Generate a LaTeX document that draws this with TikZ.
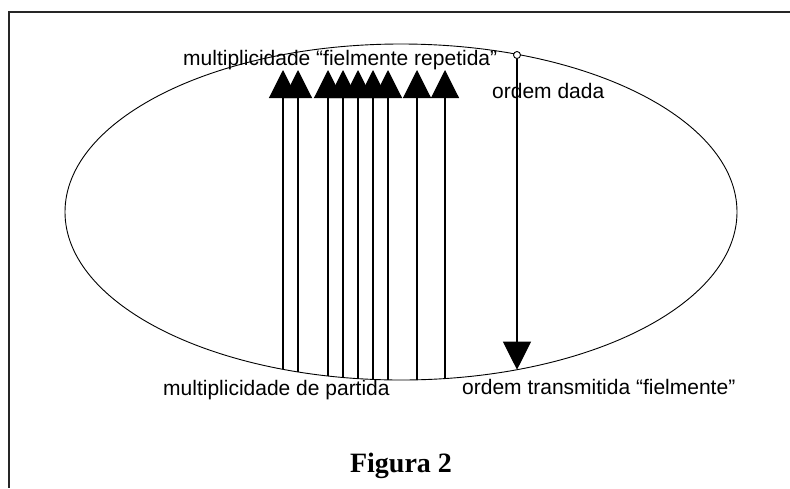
\documentclass[tikz,border=0pt]{standalone}
\usepackage{fontspec}
\setmainfont{Liberation Sans}
\newfontfamily\figfont{Liberation Serif}
\usetikzlibrary{arrows.meta}
\begin{document}
\begin{tikzpicture}[x=1pt,y=-1pt,
  frameline/.style={line width=1.3pt,black!85},
  ell/.style={line width=0.9pt},
  upline/.style={line width=1.1pt,-{Triangle[length=28pt,width=28pt]}},
  downline/.style={line width=1.1pt,-{Triangle[length=28pt,width=28pt]}},
  lab/.style={inner sep=0pt,anchor=base west,font=\fontsize{21}{25}\selectfont},
  caption/.style={inner sep=0pt,anchor=base,font=\figfont\bfseries\fontsize{28}{32}\selectfont}]
\useasboundingbox (0,0) rectangle (790,488);
% partial frame
\coordinate (fTR) at (790,12);
\coordinate (fTL) at (9,12);
\coordinate (fBL) at (9,488);
\draw[frameline] (fTR) -- (fTL) -- (fBL);
% ellipse
\coordinate (ec) at (401,212);
\draw[ell] (ec) ellipse [x radius=336, y radius=168];
% upward arrows (bottom on ellipse, apex at top)
\coordinate (b1) at (283,369.3); \coordinate (t1) at (283,70);
\coordinate (b2) at (298,371.9); \coordinate (t2) at (298,70);
\coordinate (b3) at (328,376.0); \coordinate (t3) at (328,70);
\coordinate (b4) at (343,377.5); \coordinate (t4) at (343,70);
\coordinate (b5) at (358,378.6); \coordinate (t5) at (358,70);
\coordinate (b6) at (373,379.4); \coordinate (t6) at (373,70);
\coordinate (b7) at (388,379.9); \coordinate (t7) at (388,70);
\coordinate (b8) at (417,379.8); \coordinate (t8) at (417,70);
\coordinate (b9) at (445,378.6); \coordinate (t9) at (445,70);
\foreach \i in {1,...,9} {\draw[upline] (b\i) -- (t\i);}
% downward arrow
\node[circle,draw,line width=0.9pt,inner sep=0pt,minimum size=7pt,fill=white] (start) at (517,55) {};
\coordinate (end) at (517,369.7);
\draw[downline] (start) -- (end);
% labels
\node[lab] (top) at (183,65) {multiplicidade “fielmente repetida”};
\node[lab] (dada) at (492,98) {ordem dada};
\node[lab] (partida) at (163,395) {multiplicidade de partida};
\node[lab] (trans) at (462,394) {ordem transmitida “fielmente”};
\node[caption] (fig) at (401,472) {Figura 2};
\end{tikzpicture}
\end{document}
